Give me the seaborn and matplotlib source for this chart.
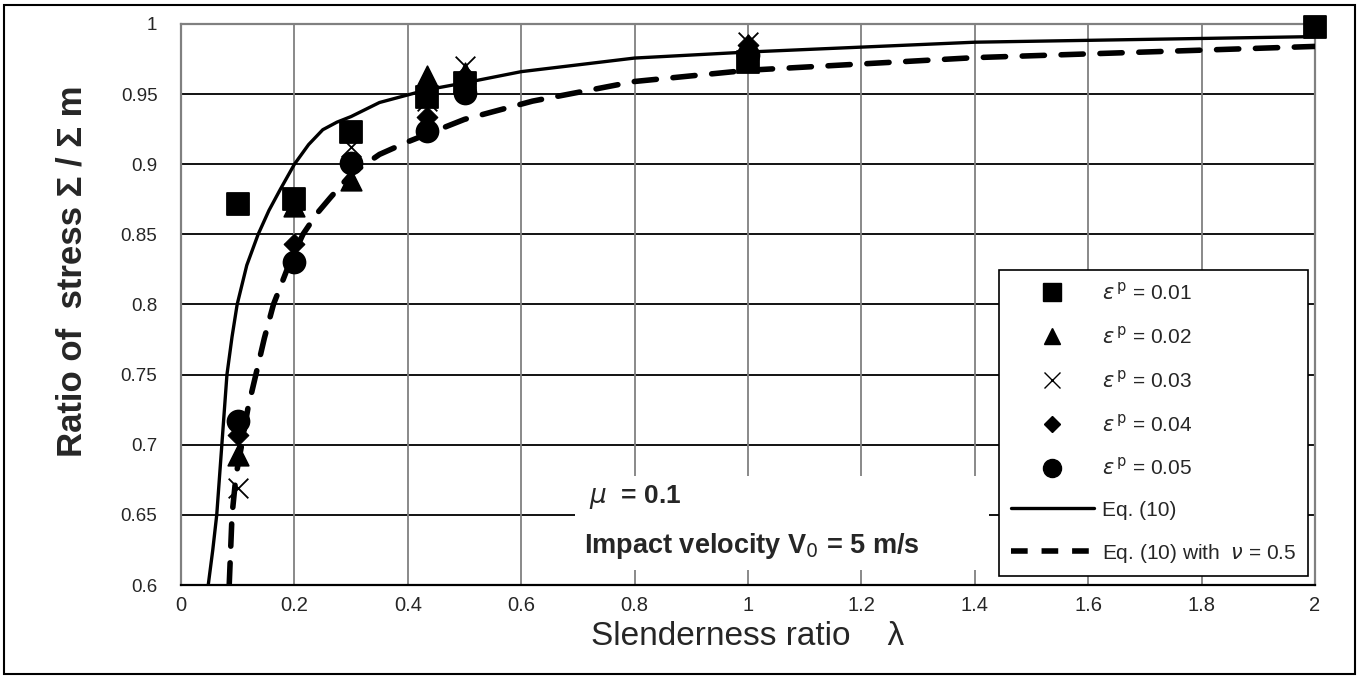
import matplotlib
matplotlib.use("Agg")
import matplotlib.pyplot as plt
import seaborn as sns
import numpy as np
from matplotlib.lines import Line2D
from matplotlib.patches import Rectangle
from matplotlib import font_manager

# ---------------- data ----------------
lam_all = [0.1, 0.2, 0.3, 0.433, 0.5, 1.0, 2.0]
lam = [0.1, 0.2, 0.3, 0.433, 0.5, 1.0]
ep01 = [0.872, 0.875, 0.923, 0.948, 0.958, 0.973, 0.998]
ep02 = [0.693, 0.870, 0.889, 0.963, 0.965, 0.985]
ep03 = [0.669, 0.837, 0.912, 0.945, 0.970, 0.987]
ep04 = [0.707, 0.843, 0.900, 0.934, 0.955, 0.985]
ep05 = [0.717, 0.830, 0.901, 0.924, 0.951, 0.978]

eq_lam = [0.048, 0.056, 0.063, 0.072, 0.081, 0.090, 0.099, 0.116, 0.136, 0.155, 0.175,
          0.2, 0.225, 0.25, 0.275, 0.3, 0.35, 0.433, 0.5, 0.6, 0.8, 1.0, 1.4, 2.0]
eq_val = [0.600, 0.625, 0.650, 0.700, 0.750, 0.777, 0.800, 0.828, 0.850, 0.867, 0.882,
          0.900, 0.914, 0.9246, 0.930, 0.934, 0.944, 0.953, 0.958, 0.966, 0.9757,
          0.980, 0.987, 0.991]

nu_lam = [0.085, 0.09, 0.097, 0.107, 0.118, 0.132, 0.147, 0.163, 0.19, 0.215, 0.24,
          0.263, 0.3, 0.35, 0.40, 0.5, 0.62, 0.8, 1.0, 1.4, 2.0]
nu_val = [0.600, 0.650, 0.678, 0.700, 0.726, 0.750, 0.776, 0.800, 0.828, 0.850, 0.865,
          0.876, 0.893, 0.907, 0.916, 0.932, 0.945, 0.959, 0.967, 0.976, 0.984]

x_ticks = [0, 0.2, 0.4, 0.6, 0.8, 1.0, 1.2, 1.4, 1.6, 1.8, 2.0]
x_ticklabels = ["0", "0.2", "0.4", "0.6", "0.8", "1", "1.2", "1.4", "1.6", "1.8", "2"]
y_ticks = [0.6, 0.65, 0.7, 0.75, 0.8, 0.85, 0.9, 0.95, 1.0]
y_ticklabels = ["0.6", "0.65", "0.7", "0.75", "0.8", "0.85", "0.9", "0.95", "1"]

labels = [r"$\varepsilon^{\,\mathrm{p}}$ = 0.01", r"$\varepsilon^{\,\mathrm{p}}$ = 0.02",
          r"$\varepsilon^{\,\mathrm{p}}$ = 0.03", r"$\varepsilon^{\,\mathrm{p}}$ = 0.04",
          r"$\varepsilon^{\,\mathrm{p}}$ = 0.05"]

# ---------------- style ----------------
sns.set_theme(style="white")
avail = {f.name for f in font_manager.fontManager.ttflist}
narrow = "Liberation Sans Narrow" if "Liberation Sans Narrow" in avail else "Liberation Sans"
plt.rcParams['font.family'] = ['Liberation Sans', 'DejaVu Sans']
plt.rcParams['mathtext.fontset'] = 'dejavusans'

fig = plt.figure(figsize=(13.59, 6.79), dpi=100)
ax = fig.add_axes([0.1332, 0.1384, 0.8344, 0.8263])

# frame around whole figure
fig.patches.append(Rectangle((0.003, 0.008), 0.994, 0.984, transform=fig.transFigure,
                             fill=False, edgecolor='black', linewidth=1.5, zorder=-1))

ax.set_xlim(0, 2)
ax.set_ylim(0.6, 1.0)
ax.set_xticks(x_ticks)
ax.set_xticklabels(x_ticklabels, fontfamily=narrow, fontsize=14.5)
ax.set_yticks(y_ticks)
ax.set_yticklabels(y_ticklabels, fontsize=13.5)
ax.tick_params(axis='both', length=0)
ax.tick_params(axis='y', pad=17)
ax.tick_params(axis='x', pad=8)

# grid: horizontal black, vertical gray
for yv in y_ticks[1:-1]:
    ax.axhline(yv, color='black', lw=1.3, zorder=0)
for xv in x_ticks[1:-1]:
    ax.axvline(xv, color='#808080', lw=1.3, zorder=0)

for side in ['left', 'top', 'right']:
    ax.spines[side].set_color('#808080')
    ax.spines[side].set_linewidth(1.6)
ax.spines['bottom'].set_color('black')
ax.spines['bottom'].set_linewidth(1.6)

# curves
sns.lineplot(x=eq_lam, y=eq_val, ax=ax, color='black', lw=2.4, sort=False, zorder=3)
sns.lineplot(x=nu_lam, y=nu_val, ax=ax, color='black', lw=4.0, sort=False,
             dashes=False, zorder=3, linestyle=(0, (4, 3)))
ax.lines[-1].set_dash_capstyle('round')

# points
kw = dict(ax=ax, color='black', zorder=5, clip_on=False)
sns.scatterplot(x=lam_all, y=ep01, marker='s', s=260, edgecolor='black', **kw)
sns.scatterplot(x=lam, y=ep02, marker='^', s=220, edgecolor='black', **kw)
sns.scatterplot(x=lam, y=ep03, marker='x', s=200, linewidth=1.3, **kw)
sns.scatterplot(x=lam, y=ep04, marker='D', s=110, edgecolor='black', **kw)
sns.scatterplot(x=lam, y=ep05, marker='o', s=250, edgecolor='black', **kw)

ax.set_xlabel("Slenderness ratio    λ", fontfamily=narrow, fontsize=24, labelpad=4)
ax.set_ylabel("Ratio of  stress Σ / Σ m", fontsize=25, fontweight='bold')
ax.yaxis.set_label_coords(-0.082, 0.56)

# annotation box
ax.add_patch(Rectangle((0.695, 0.611), 0.73, 0.067, facecolor='white', edgecolor='none', zorder=2))
ax.text(0.72, 0.663, r"$\mu$  = 0.1", fontsize=19, fontweight='bold', va='center', zorder=4)
ax.text(0.71, 0.628, r"Impact velocity V$_{0}$ = 5 m/s", fontsize=19.5, fontweight='bold',
        va='center', zorder=4)

# legend
handles = [
    Line2D([], [], ls='none', marker='s', ms=13, color='black'),
    Line2D([], [], ls='none', marker='^', ms=12, color='black'),
    Line2D([], [], ls='none', marker='x', ms=12, color='black', mew=1.0),
    Line2D([], [], ls='none', marker='D', ms=8, color='black'),
    Line2D([], [], ls='none', marker='o', ms=13, color='black'),
    Line2D([], [], color='black', lw=2.4),
    Line2D([], [], color='black', lw=4.0, linestyle=(0, (3, 2.5))),
]
leg_labels = labels + ["Eq. (10)", r"Eq. (10) with  $\nu$ = 0.5"]
leg = ax.legend(handles, leg_labels, loc='lower right', bbox_to_anchor=(0.994, 0.016),
                fontsize=15, frameon=True, fancybox=False, edgecolor='black',
                framealpha=1, labelspacing=1.05, handlelength=4.0, handletextpad=0.4,
                borderpad=0.55, borderaxespad=0)
leg.get_frame().set_linewidth(1.2)
leg.set_zorder(10)

fig.savefig("out.png", dpi=100)
